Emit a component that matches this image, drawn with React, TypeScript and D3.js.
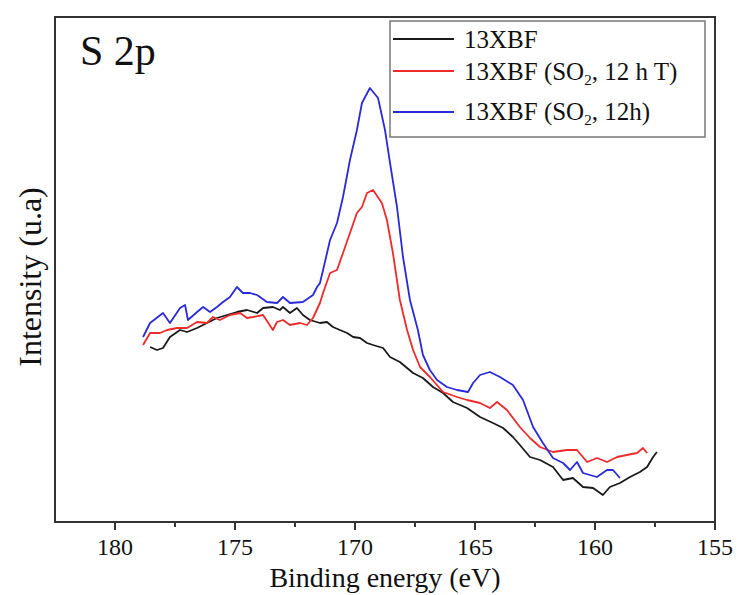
import React from "react";
import * as d3 from "d3";

// Binding energy (eV) and intensity (a.u.)
const blackE = [178.54,178.25,178.00,177.71,177.29,177.00,176.58,176.17,175.75,175.33,174.92,174.50,174.08,173.83,173.42,173.13,173.00,172.71,172.42,172.17,171.88,171.46,171.17,170.92,170.63,170.33,170.08,169.79,169.50,169.25,168.83,168.54,168.13,167.58,167.17,166.75,166.33,165.92,165.33,164.79,164.25,163.83,163.42,163.13,162.71,162.29,161.75,161.33,160.92,160.50,160.08,159.67,159.38,158.96,158.54,158.13,157.83,157.58,157.42];
const blackI = [175,172,174,185,192,190,194,199,204,207,210,212,209,214,215,212,215,209,214,207,202,199,200,195,192,189,185,184,179,177,174,165,160,149,144,135,129,120,114,105,99,94,85,77,65,62,55,42,44,35,34,27,35,39,45,50,55,65,70];

const redE = [178.83,178.54,178.13,177.83,177.42,177.00,176.58,176.17,175.92,175.63,175.21,174.79,174.50,174.25,173.83,173.42,173.25,173.00,172.71,172.29,172.00,171.75,171.46,171.33,171.04,170.75,170.50,170.21,169.92,169.71,169.50,169.25,168.88,168.67,168.42,168.13,167.83,167.58,167.29,166.88,166.33,165.75,165.33,164.79,164.38,164.08,163.67,163.13,162.71,162.29,161.75,161.17,160.75,160.33,159.92,159.50,159.08,158.67,158.25,158.00,157.83];
const redI = [177,189,189,192,194,194,200,199,205,202,207,209,204,205,207,192,200,202,197,199,197,204,219,229,249,252,269,289,309,315,329,332,319,302,269,222,192,172,155,145,130,125,122,119,114,120,112,95,84,75,70,72,72,60,64,60,65,67,69,74,69];

const blueE = [178.83,178.54,178.00,177.71,177.29,177.08,176.96,176.58,176.33,176.04,175.75,175.50,175.21,174.92,174.67,174.38,174.08,173.67,173.25,173.00,172.71,172.17,171.75,171.58,171.46,171.33,171.04,170.75,170.50,170.21,169.92,169.71,169.38,169.04,168.75,168.54,168.25,168.00,167.71,167.38,167.17,166.88,166.58,166.17,165.75,165.29,165.08,164.79,164.38,163.96,163.42,163.00,162.58,162.17,161.75,161.33,161.04,160.75,160.50,159.92,159.50,159.25,158.96];
const blueI = [185,199,209,199,214,217,202,210,215,210,215,220,225,235,229,229,227,220,219,225,219,220,227,235,239,252,282,299,325,362,392,419,434,424,392,359,315,265,222,192,167,152,142,135,132,130,139,147,150,145,137,122,95,79,64,59,52,60,49,45,52,52,44];

const xTicks = [180, 175, 170, 165, 160, 155];
const xMinorTicks = [177.5, 172.5, 167.5, 162.5, 157.5];

const seriesNames = ["13XBF", "13XBF (SO2, 12 h T)", "13XBF (SO2, 12h)"];
const seriesColors = ["#1a1a1a", "#ee2a2a", "#2a2ad8"];

const FONT = "'Liberation Serif', 'Times New Roman', serif";

export default function App() {
  const left = 55, right = 715, top = 17, bottom = 522;
  const x = d3.scaleLinear().domain([182.5, 155]).range([left, right]);
  const y = d3.scaleLinear().domain([0, 505]).range([bottom, top]);
  const line = d3
    .line<[number, number]>()
    .x((d) => x(d[0]))
    .y((d) => y(d[1]));

  const series = [
    { E: blackE, I: blackI },
    { E: redE, I: redI },
    { E: blueE, I: blueI },
  ];

  const legY = [39, 71, 112];
  const legTextY = [48, 80, 120];

  return (
    <svg
      width={740}
      height={595}
      style={{ position: "absolute", left: 0, top: 0, background: "#fff" }}
      fontFamily={FONT}
    >
      <rect x={0} y={0} width={740} height={595} fill="#fff" />
      {series.map((s, i) => (
        <path
          key={i}
          d={line(s.E.map((e, j) => [e, s.I[j]] as [number, number])) || ""}
          fill="none"
          stroke={seriesColors[i]}
          strokeWidth={1.8}
          strokeLinejoin="round"
        />
      ))}
      {/* frame */}
      <rect
        x={left}
        y={top}
        width={right - left}
        height={bottom - top}
        fill="none"
        stroke="#333"
        strokeWidth={2}
      />
      {/* x ticks */}
      {xTicks.map((t) => (
        <g key={t}>
          <line x1={x(t)} x2={x(t)} y1={bottom} y2={bottom + 8} stroke="#333" strokeWidth={2} />
          <text x={x(t)} y={555} textAnchor="middle" fontSize={24} fill="#111">
            {t}
          </text>
        </g>
      ))}
      {xMinorTicks.map((t) => (
        <line key={t} x1={x(t)} x2={x(t)} y1={bottom} y2={bottom + 5} stroke="#333" strokeWidth={2} />
      ))}
      <text x={385} y={587} textAnchor="middle" fontSize={28} fill="#111">
        Binding energy (eV)
      </text>
      <text
        transform="translate(41,277) rotate(-90)"
        textAnchor="middle"
        fontSize={32}
        fill="#111"
      >
        Intensity (u.a)
      </text>
      <text x={80} y={65} fontSize={42} fill="#111">
        S 2p
      </text>
      {/* legend */}
      <rect x={390} y={21} width={315} height={116} fill="#fff" stroke="#777" strokeWidth={1.5} />
      {seriesNames.map((n, i) => {
        const parts = n.split("SO2");
        return (
          <g key={n}>
            <line x1={393} x2={454} y1={legY[i]} y2={legY[i]} stroke={seriesColors[i]} strokeWidth={1.8} />
            <text x={464} y={legTextY[i]} fontSize={25} fill="#111">
              {parts.length === 1 ? (
                n
              ) : (
                <>
                  {parts[0]}SO
                  <tspan fontSize={15} dy={5}>2</tspan>
                  <tspan dy={-5}>{parts[1]}</tspan>
                </>
              )}
            </text>
          </g>
        );
      })}
    </svg>
  );
}
